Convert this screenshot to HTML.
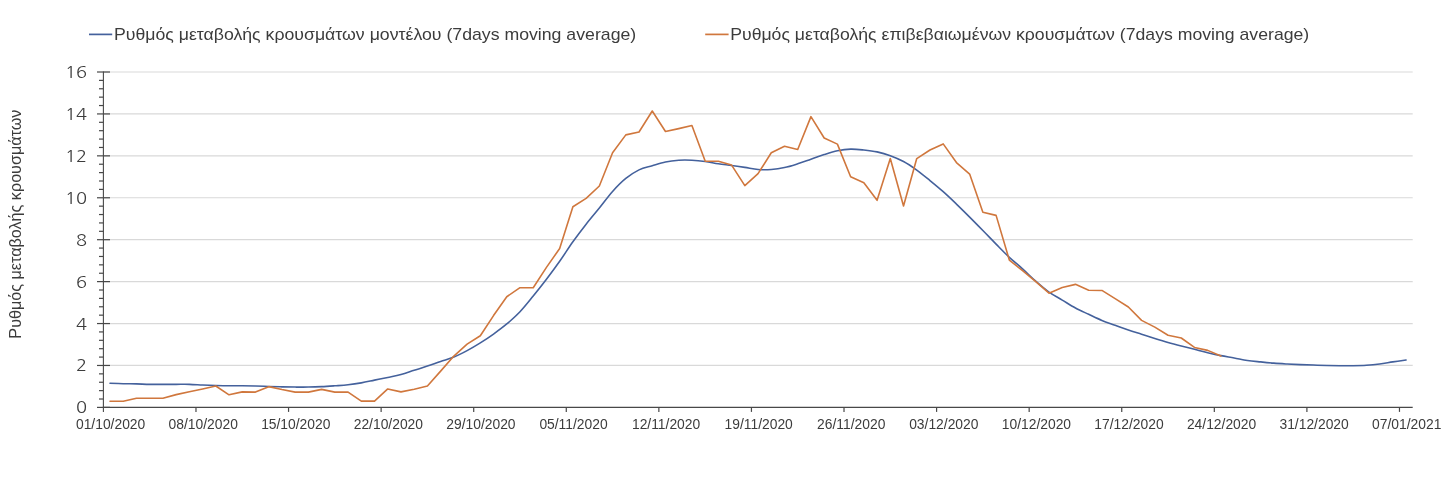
<!DOCTYPE html>
<html><head><meta charset="utf-8"><title>Chart</title>
<style>
html,body{margin:0;padding:0;background:#fff;}
body{width:1448px;height:486px;overflow:hidden;}
svg{display:block;}
text{font-family:"Liberation Sans","Noto Sans CJK SC",sans-serif;fill:#3c3c3c;}
.lg{font-size:16px;}
.yl{font-size:16.6px;font-family:"NanumGothic","Liberation Sans",sans-serif;}
.xl{font-size:13.85px;}
.yt{font-size:16px;}
</style></head>
<body>
<svg width="1448" height="486" viewBox="0 0 1448 486">
<rect width="1448" height="486" fill="#fff"/>
<line x1="103.4" y1="365.47" x2="1412.7" y2="365.47" stroke="#d9d9d9" stroke-width="1.2"/>
<line x1="103.4" y1="323.55" x2="1412.7" y2="323.55" stroke="#d9d9d9" stroke-width="1.2"/>
<line x1="103.4" y1="281.62" x2="1412.7" y2="281.62" stroke="#d9d9d9" stroke-width="1.2"/>
<line x1="103.4" y1="239.70" x2="1412.7" y2="239.70" stroke="#d9d9d9" stroke-width="1.2"/>
<line x1="103.4" y1="197.77" x2="1412.7" y2="197.77" stroke="#d9d9d9" stroke-width="1.2"/>
<line x1="103.4" y1="155.85" x2="1412.7" y2="155.85" stroke="#d9d9d9" stroke-width="1.2"/>
<line x1="103.4" y1="113.93" x2="1412.7" y2="113.93" stroke="#d9d9d9" stroke-width="1.2"/>
<line x1="103.4" y1="72.00" x2="1412.7" y2="72.00" stroke="#d9d9d9" stroke-width="1.2"/>
<line x1="97" y1="407.40" x2="110" y2="407.40" stroke="#484848" stroke-width="1.2"/>
<line x1="99" y1="399.01" x2="103.4" y2="399.01" stroke="#484848" stroke-width="1.2"/>
<line x1="99" y1="390.63" x2="103.4" y2="390.63" stroke="#484848" stroke-width="1.2"/>
<line x1="99" y1="382.25" x2="103.4" y2="382.25" stroke="#484848" stroke-width="1.2"/>
<line x1="99" y1="373.86" x2="103.4" y2="373.86" stroke="#484848" stroke-width="1.2"/>
<line x1="97" y1="365.47" x2="110" y2="365.47" stroke="#484848" stroke-width="1.2"/>
<line x1="99" y1="357.09" x2="103.4" y2="357.09" stroke="#484848" stroke-width="1.2"/>
<line x1="99" y1="348.70" x2="103.4" y2="348.70" stroke="#484848" stroke-width="1.2"/>
<line x1="99" y1="340.32" x2="103.4" y2="340.32" stroke="#484848" stroke-width="1.2"/>
<line x1="99" y1="331.93" x2="103.4" y2="331.93" stroke="#484848" stroke-width="1.2"/>
<line x1="97" y1="323.55" x2="110" y2="323.55" stroke="#484848" stroke-width="1.2"/>
<line x1="99" y1="315.16" x2="103.4" y2="315.16" stroke="#484848" stroke-width="1.2"/>
<line x1="99" y1="306.78" x2="103.4" y2="306.78" stroke="#484848" stroke-width="1.2"/>
<line x1="99" y1="298.39" x2="103.4" y2="298.39" stroke="#484848" stroke-width="1.2"/>
<line x1="99" y1="290.01" x2="103.4" y2="290.01" stroke="#484848" stroke-width="1.2"/>
<line x1="97" y1="281.62" x2="110" y2="281.62" stroke="#484848" stroke-width="1.2"/>
<line x1="99" y1="273.24" x2="103.4" y2="273.24" stroke="#484848" stroke-width="1.2"/>
<line x1="99" y1="264.85" x2="103.4" y2="264.85" stroke="#484848" stroke-width="1.2"/>
<line x1="99" y1="256.47" x2="103.4" y2="256.47" stroke="#484848" stroke-width="1.2"/>
<line x1="99" y1="248.08" x2="103.4" y2="248.08" stroke="#484848" stroke-width="1.2"/>
<line x1="97" y1="239.70" x2="110" y2="239.70" stroke="#484848" stroke-width="1.2"/>
<line x1="99" y1="231.31" x2="103.4" y2="231.31" stroke="#484848" stroke-width="1.2"/>
<line x1="99" y1="222.93" x2="103.4" y2="222.93" stroke="#484848" stroke-width="1.2"/>
<line x1="99" y1="214.54" x2="103.4" y2="214.54" stroke="#484848" stroke-width="1.2"/>
<line x1="99" y1="206.16" x2="103.4" y2="206.16" stroke="#484848" stroke-width="1.2"/>
<line x1="97" y1="197.77" x2="110" y2="197.77" stroke="#484848" stroke-width="1.2"/>
<line x1="99" y1="189.39" x2="103.4" y2="189.39" stroke="#484848" stroke-width="1.2"/>
<line x1="99" y1="181.00" x2="103.4" y2="181.00" stroke="#484848" stroke-width="1.2"/>
<line x1="99" y1="172.62" x2="103.4" y2="172.62" stroke="#484848" stroke-width="1.2"/>
<line x1="99" y1="164.23" x2="103.4" y2="164.23" stroke="#484848" stroke-width="1.2"/>
<line x1="97" y1="155.85" x2="110" y2="155.85" stroke="#484848" stroke-width="1.2"/>
<line x1="99" y1="147.46" x2="103.4" y2="147.46" stroke="#484848" stroke-width="1.2"/>
<line x1="99" y1="139.08" x2="103.4" y2="139.08" stroke="#484848" stroke-width="1.2"/>
<line x1="99" y1="130.69" x2="103.4" y2="130.69" stroke="#484848" stroke-width="1.2"/>
<line x1="99" y1="122.31" x2="103.4" y2="122.31" stroke="#484848" stroke-width="1.2"/>
<line x1="97" y1="113.93" x2="110" y2="113.93" stroke="#484848" stroke-width="1.2"/>
<line x1="99" y1="105.54" x2="103.4" y2="105.54" stroke="#484848" stroke-width="1.2"/>
<line x1="99" y1="97.15" x2="103.4" y2="97.15" stroke="#484848" stroke-width="1.2"/>
<line x1="99" y1="88.77" x2="103.4" y2="88.77" stroke="#484848" stroke-width="1.2"/>
<line x1="99" y1="80.38" x2="103.4" y2="80.38" stroke="#484848" stroke-width="1.2"/>
<line x1="97" y1="72.00" x2="110" y2="72.00" stroke="#484848" stroke-width="1.2"/>
<line x1="102.80000000000001" y1="407.4" x2="1412.7" y2="407.4" stroke="#484848" stroke-width="1.2"/>
<line x1="103.4" y1="71.4" x2="103.4" y2="411.9" stroke="#484848" stroke-width="1.1"/>
<line x1="195.98" y1="407.4" x2="195.98" y2="411.9" stroke="#484848" stroke-width="1.2"/>
<line x1="288.55" y1="407.4" x2="288.55" y2="411.9" stroke="#484848" stroke-width="1.2"/>
<line x1="381.13" y1="407.4" x2="381.13" y2="411.9" stroke="#484848" stroke-width="1.2"/>
<line x1="473.71" y1="407.4" x2="473.71" y2="411.9" stroke="#484848" stroke-width="1.2"/>
<line x1="566.28" y1="407.4" x2="566.28" y2="411.9" stroke="#484848" stroke-width="1.2"/>
<line x1="658.86" y1="407.4" x2="658.86" y2="411.9" stroke="#484848" stroke-width="1.2"/>
<line x1="751.44" y1="407.4" x2="751.44" y2="411.9" stroke="#484848" stroke-width="1.2"/>
<line x1="844.01" y1="407.4" x2="844.01" y2="411.9" stroke="#484848" stroke-width="1.2"/>
<line x1="936.59" y1="407.4" x2="936.59" y2="411.9" stroke="#484848" stroke-width="1.2"/>
<line x1="1029.17" y1="407.4" x2="1029.17" y2="411.9" stroke="#484848" stroke-width="1.2"/>
<line x1="1121.74" y1="407.4" x2="1121.74" y2="411.9" stroke="#484848" stroke-width="1.2"/>
<line x1="1214.32" y1="407.4" x2="1214.32" y2="411.9" stroke="#484848" stroke-width="1.2"/>
<line x1="1306.90" y1="407.4" x2="1306.90" y2="411.9" stroke="#484848" stroke-width="1.2"/>
<line x1="1399.47" y1="407.4" x2="1399.47" y2="411.9" stroke="#484848" stroke-width="1.2"/>
<path d="M110.01,383.29 C112.22,383.36 118.83,383.61 123.24,383.71 C127.65,383.82 132.05,383.82 136.46,383.92 C140.87,384.03 145.28,384.27 149.69,384.34 C154.10,384.41 158.51,384.34 162.91,384.34 C167.32,384.34 171.73,384.34 176.14,384.34 C180.55,384.34 184.96,384.24 189.36,384.34 C193.77,384.45 198.18,384.78 202.59,384.97 C207.00,385.16 211.41,385.35 215.81,385.49 C220.22,385.63 224.63,385.76 229.04,385.81 C233.45,385.86 237.86,385.77 242.27,385.81 C246.67,385.84 251.08,385.91 255.49,386.02 C259.90,386.12 264.31,386.30 268.72,386.44 C273.12,386.58 277.53,386.75 281.94,386.86 C286.35,386.96 290.76,387.03 295.17,387.07 C299.57,387.10 303.98,387.14 308.39,387.07 C312.80,387.00 317.21,386.86 321.62,386.65 C326.03,386.44 330.43,386.12 334.84,385.81 C339.25,385.49 343.66,385.25 348.07,384.76 C352.48,384.27 356.88,383.64 361.29,382.87 C365.70,382.11 370.11,381.06 374.52,380.15 C378.93,379.24 383.33,378.37 387.74,377.42 C392.15,376.48 396.56,375.68 400.97,374.49 C405.38,373.30 409.79,371.69 414.19,370.30 C418.60,368.90 423.01,367.57 427.42,366.10 C431.83,364.64 436.24,362.99 440.64,361.49 C445.05,359.99 449.46,358.91 453.87,357.09 C458.28,355.27 462.69,352.97 467.09,350.59 C471.50,348.22 475.91,345.60 480.32,342.84 C484.73,340.08 489.14,337.18 493.54,334.03 C497.95,330.89 502.36,327.67 506.77,323.97 C511.18,320.27 515.59,316.46 520.00,311.81 C524.40,307.16 528.81,301.50 533.22,296.09 C537.63,290.67 542.04,285.12 546.45,279.32 C550.85,273.52 555.26,267.55 559.67,261.29 C564.08,255.04 568.49,247.98 572.90,241.80 C577.30,235.61 581.71,229.81 586.12,224.19 C590.53,218.56 594.94,213.50 599.35,208.05 C603.76,202.60 608.16,196.41 612.57,191.49 C616.98,186.56 621.39,182.09 625.80,178.49 C630.21,174.89 634.61,172.03 639.02,169.89 C643.43,167.76 647.84,167.03 652.25,165.70 C656.66,164.37 661.06,162.84 665.47,161.93 C669.88,161.02 674.29,160.53 678.70,160.25 C683.11,159.97 687.52,160.04 691.92,160.25 C696.33,160.46 700.74,160.92 705.15,161.51 C709.56,162.10 713.97,163.15 718.37,163.82 C722.78,164.48 727.19,164.90 731.60,165.49 C736.01,166.09 740.42,166.72 744.82,167.38 C749.23,168.04 753.64,169.13 758.05,169.48 C762.46,169.83 766.87,169.79 771.28,169.48 C775.68,169.16 780.09,168.53 784.50,167.59 C788.91,166.65 793.32,165.21 797.73,163.82 C802.13,162.42 806.54,160.74 810.95,159.20 C815.36,157.67 819.77,155.99 824.18,154.59 C828.58,153.19 832.99,151.73 837.40,150.82 C841.81,149.91 846.22,149.28 850.63,149.14 C855.04,149.00 859.44,149.53 863.85,149.98 C868.26,150.43 872.67,150.92 877.08,151.87 C881.49,152.81 885.89,154.03 890.30,155.64 C894.71,157.25 899.12,159.10 903.53,161.51 C907.94,163.92 912.34,166.93 916.75,170.10 C921.16,173.28 925.57,176.99 929.98,180.59 C934.39,184.18 938.80,187.78 943.20,191.70 C947.61,195.61 952.02,199.84 956.43,204.06 C960.84,208.29 965.25,212.66 969.65,217.06 C974.06,221.46 978.47,225.97 982.88,230.48 C987.29,234.98 991.70,239.63 996.10,244.10 C1000.51,248.57 1004.92,253.19 1009.33,257.31 C1013.74,261.43 1018.15,264.85 1022.56,268.84 C1026.96,272.82 1031.37,277.33 1035.78,281.21 C1040.19,285.08 1044.60,288.96 1049.01,292.11 C1053.41,295.25 1057.82,297.42 1062.23,300.07 C1066.64,302.73 1071.05,305.66 1075.46,308.04 C1079.86,310.41 1084.27,312.27 1088.68,314.33 C1093.09,316.39 1097.50,318.59 1101.91,320.41 C1106.31,322.22 1110.72,323.62 1115.13,325.23 C1119.54,326.83 1123.95,328.55 1128.36,330.05 C1132.77,331.55 1137.17,332.84 1141.58,334.24 C1145.99,335.64 1150.40,337.07 1154.81,338.43 C1159.22,339.80 1163.62,341.16 1168.03,342.42 C1172.44,343.67 1176.85,344.83 1181.26,345.98 C1185.67,347.13 1190.07,348.22 1194.48,349.33 C1198.89,350.45 1203.30,351.64 1207.71,352.69 C1212.12,353.74 1216.53,354.75 1220.93,355.62 C1225.34,356.50 1229.75,357.12 1234.16,357.93 C1238.57,358.73 1242.98,359.78 1247.38,360.44 C1251.79,361.11 1256.20,361.46 1260.61,361.91 C1265.02,362.37 1269.43,362.82 1273.83,363.17 C1278.24,363.52 1282.65,363.76 1287.06,364.01 C1291.47,364.25 1295.88,364.46 1300.29,364.64 C1304.69,364.81 1309.10,364.92 1313.51,365.06 C1317.92,365.20 1322.33,365.37 1326.74,365.47 C1331.14,365.58 1335.55,365.65 1339.96,365.68 C1344.37,365.72 1348.78,365.75 1353.19,365.68 C1357.59,365.61 1362.00,365.54 1366.41,365.27 C1370.82,364.99 1375.23,364.57 1379.64,364.01 C1384.05,363.45 1388.45,362.58 1392.86,361.91 C1397.27,361.25 1403.88,360.34 1406.09,360.02" fill="none" stroke="#44619c" stroke-width="1.6" stroke-linejoin="round" stroke-linecap="round"/>
<path d="M110.01,401.32 L123.24,401.32 L136.46,398.18 L149.69,398.18 L162.91,398.18 L176.14,394.61 L189.36,391.68 L202.59,388.95 L215.81,386.02 L229.04,394.82 L242.27,391.89 L255.49,392.10 L268.72,386.65 L281.94,389.58 L295.17,392.10 L308.39,392.10 L321.62,389.37 L334.84,392.10 L348.07,392.10 L361.29,401.11 L374.52,401.11 L387.74,388.95 L400.97,391.89 L414.19,389.16 L427.42,386.02 L440.64,371.13 L453.87,356.04 L467.09,344.09 L480.32,335.71 L493.54,315.58 L506.77,296.72 L520.00,287.70 L533.22,287.70 L546.45,267.37 L559.67,248.50 L572.90,206.79 L586.12,198.40 L599.35,186.04 L612.57,152.71 L625.80,134.89 L639.02,131.95 L652.25,110.99 L665.47,131.53 L678.70,128.60 L691.92,125.45 L705.15,161.09 L718.37,161.30 L731.60,165.07 L744.82,185.62 L758.05,173.67 L771.28,152.71 L784.50,146.21 L797.73,149.56 L810.95,116.65 L824.18,138.03 L837.40,144.11 L850.63,176.81 L863.85,182.68 L877.08,200.29 L890.30,158.58 L903.53,205.95 L916.75,158.58 L929.98,149.98 L943.20,143.90 L956.43,162.56 L969.65,174.09 L982.88,212.24 L996.10,215.38 L1009.33,260.03 L1022.56,270.72 L1035.78,281.62 L1049.01,293.15 L1062.23,287.49 L1075.46,284.35 L1088.68,290.22 L1101.91,290.43 L1115.13,298.60 L1128.36,306.99 L1141.58,320.41 L1154.81,327.11 L1168.03,335.29 L1181.26,338.01 L1194.48,347.45 L1207.71,350.38 L1220.93,356.04" fill="none" stroke="#d0773d" stroke-width="1.6" stroke-linejoin="round" stroke-linecap="round"/>
<text transform="translate(87.0,413.35) scale(1.1,1)" class="yl" text-anchor="end">0</text>
<text transform="translate(87.0,371.42) scale(1.1,1)" class="yl" text-anchor="end">2</text>
<text transform="translate(87.0,329.50) scale(1.1,1)" class="yl" text-anchor="end">4</text>
<text transform="translate(87.0,287.57) scale(1.1,1)" class="yl" text-anchor="end">6</text>
<text transform="translate(87.0,245.65) scale(1.1,1)" class="yl" text-anchor="end">8</text>
<text transform="translate(87.0,203.72) scale(1.1,1)" class="yl" text-anchor="end">10</text>
<text transform="translate(87.0,161.80) scale(1.1,1)" class="yl" text-anchor="end">12</text>
<text transform="translate(87.0,119.88) scale(1.1,1)" class="yl" text-anchor="end">14</text>
<text transform="translate(87.0,77.95) scale(1.1,1)" class="yl" text-anchor="end">16</text>
<text transform="translate(110.61,428.6) scale(1.0,1)" class="xl" text-anchor="middle">01/10/2020</text>
<text transform="translate(203.19,428.6) scale(1.0,1)" class="xl" text-anchor="middle">08/10/2020</text>
<text transform="translate(295.77,428.6) scale(1.0,1)" class="xl" text-anchor="middle">15/10/2020</text>
<text transform="translate(388.34,428.6) scale(1.0,1)" class="xl" text-anchor="middle">22/10/2020</text>
<text transform="translate(480.92,428.6) scale(1.0,1)" class="xl" text-anchor="middle">29/10/2020</text>
<text transform="translate(573.50,428.6) scale(1.0,1)" class="xl" text-anchor="middle">05/11/2020</text>
<text transform="translate(666.07,428.6) scale(1.0,1)" class="xl" text-anchor="middle">12/11/2020</text>
<text transform="translate(758.65,428.6) scale(1.0,1)" class="xl" text-anchor="middle">19/11/2020</text>
<text transform="translate(851.23,428.6) scale(1.0,1)" class="xl" text-anchor="middle">26/11/2020</text>
<text transform="translate(943.80,428.6) scale(1.0,1)" class="xl" text-anchor="middle">03/12/2020</text>
<text transform="translate(1036.38,428.6) scale(1.0,1)" class="xl" text-anchor="middle">10/12/2020</text>
<text transform="translate(1128.96,428.6) scale(1.0,1)" class="xl" text-anchor="middle">17/12/2020</text>
<text transform="translate(1221.53,428.6) scale(1.0,1)" class="xl" text-anchor="middle">24/12/2020</text>
<text transform="translate(1314.11,428.6) scale(1.0,1)" class="xl" text-anchor="middle">31/12/2020</text>
<text transform="translate(1406.69,428.6) scale(1.0,1)" class="xl" text-anchor="middle">07/01/2021</text>
<text transform="translate(21.2,224.1) rotate(-90) scale(1.01,1)" class="yt" text-anchor="middle">Ρυθμός μεταβολής κρουσμάτων</text>
<line x1="89" y1="34.4" x2="112.2" y2="34.4" stroke="#44619c" stroke-width="1.7"/>
<text transform="translate(113.9,39.7) scale(1.107,1)" class="lg">Ρυθμός μεταβολής κρουσμάτων μοντέλου (7days moving average)</text>
<line x1="705.2" y1="34.4" x2="728.6" y2="34.4" stroke="#d0773d" stroke-width="1.7"/>
<text transform="translate(730.2,39.7) scale(1.104,1)" class="lg">Ρυθμός μεταβολής επιβεβαιωμένων κρουσμάτων (7days moving average)</text>
</svg>
</body></html>
